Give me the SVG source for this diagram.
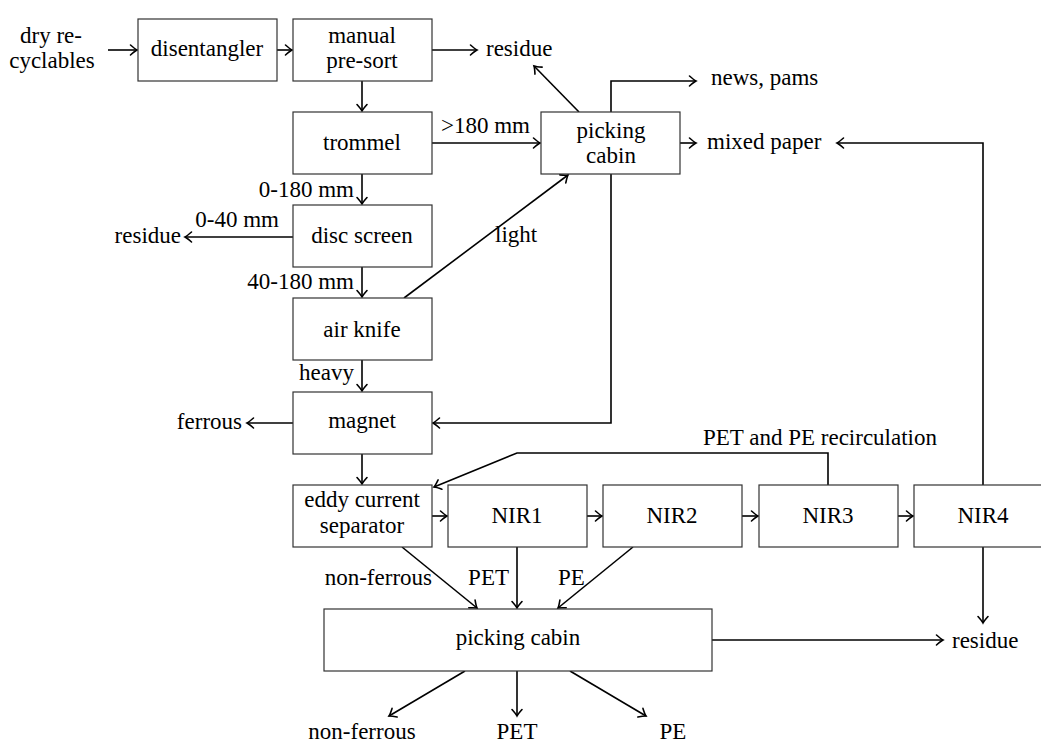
<svg xmlns="http://www.w3.org/2000/svg" width="1041" height="742" viewBox="0 0 1041 742">
<style>
text{font-family:"Liberation Serif","Times New Roman",serif;font-size:23px;fill:#000;}
.c{text-anchor:middle;}
.e{text-anchor:end;}
.box{fill:#fff;stroke:#333;stroke-width:1.2;}
.ln{fill:none;stroke:#000;stroke-width:1.6;marker-end:url(#ah);}
</style>
<defs>
<marker id="ah" markerUnits="userSpaceOnUse" viewBox="-10 -6 12 12" refX="0" refY="0" markerWidth="12" markerHeight="12" orient="auto" overflow="visible">
<path d="M-6.5,-5 Q-2,-1 0,0 Q-2,1 -6.5,5" fill="none" stroke="#000" stroke-width="1.6" stroke-linecap="round"/>
</marker>
</defs>
<rect width="1041" height="742" fill="#fff"/>
<g id="connectors">
<line class="ln" x1="108" y1="50" x2="137" y2="50"/>
<line class="ln" x1="277" y1="50" x2="292" y2="50"/>
<line class="ln" x1="432" y1="50" x2="477" y2="50"/>
<line class="ln" x1="362" y1="81" x2="362" y2="111"/>
<line class="ln" x1="432" y1="143" x2="540" y2="143"/>
<line class="ln" x1="579" y1="112" x2="534" y2="66"/>
<polyline class="ln" points="611,112 611,81 696,81"/>
<line class="ln" x1="680" y1="143" x2="696" y2="143"/>
<line class="ln" x1="362" y1="174" x2="362" y2="204"/>
<line class="ln" x1="293" y1="237" x2="185" y2="237"/>
<line class="ln" x1="362" y1="267" x2="362" y2="297"/>
<line class="ln" x1="404" y1="298" x2="568" y2="175"/>
<line class="ln" x1="362" y1="360" x2="362" y2="391"/>
<polyline class="ln" points="611,174 611,423 433,423"/>
<line class="ln" x1="293" y1="423" x2="247" y2="423"/>
<line class="ln" x1="362" y1="454" x2="362" y2="484"/>
<polyline class="ln" points="828,485 828,453 517,453 434,487"/>
<line class="ln" x1="432" y1="516" x2="447" y2="516"/>
<line class="ln" x1="587" y1="516" x2="602" y2="516"/>
<line class="ln" x1="742" y1="516" x2="758" y2="516"/>
<line class="ln" x1="897" y1="516" x2="913" y2="516"/>
<polyline class="ln" points="983,485 983,143 837,143"/>
<line class="ln" x1="983" y1="547" x2="983" y2="623"/>
<line class="ln" x1="402" y1="547" x2="477" y2="608"/>
<line class="ln" x1="517" y1="547" x2="517" y2="608"/>
<line class="ln" x1="633" y1="547" x2="558" y2="608"/>
<line class="ln" x1="712" y1="640" x2="943" y2="640"/>
<line class="ln" x1="465" y1="671" x2="389" y2="716"/>
<line class="ln" x1="517" y1="671" x2="517" y2="716"/>
<line class="ln" x1="570" y1="671" x2="646" y2="716"/>
</g>
<g id="labels">
<text class="c" x="51" y="43">dry re-</text>
<text class="c" x="52" y="68">cyclables</text>
<text x="486" y="56">residue</text>
<text x="711" y="85">news, pams</text>
<text x="707" y="149">mixed paper</text>
<text x="441" y="133">&gt;180 mm</text>
<text class="e" x="354" y="197">0-180 mm</text>
<text class="e" x="279" y="227">0-40 mm</text>
<text class="e" x="181" y="243">residue</text>
<text class="e" x="354" y="289">40-180 mm</text>
<text x="495" y="242">light</text>
<text class="e" x="354" y="380">heavy</text>
<text class="e" x="242" y="429">ferrous</text>
<text x="703" y="445">PET and PE recirculation</text>
<text class="e" x="432" y="585">non-ferrous</text>
<text class="e" x="509" y="585">PET</text>
<text x="558" y="585">PE</text>
<text x="952" y="648">residue</text>
<text class="c" x="362" y="739">non-ferrous</text>
<text class="c" x="517" y="739">PET</text>
<text class="c" x="673" y="739">PE</text>
</g>
<g id="disentangler"><rect class="box" x="138" y="19" width="139" height="62"/><text class="c" x="207" y="56">disentangler</text></g>
<g id="presort"><rect class="box" x="293" y="19" width="139" height="62"/><text class="c" x="362" y="43">manual</text><text class="c" x="362" y="68">pre-sort</text></g>
<g id="trommel"><rect class="box" x="293" y="112" width="139" height="62"/><text class="c" x="362" y="150">trommel</text></g>
<g id="picking1"><rect class="box" x="541" y="112" width="139" height="62"/><text class="c" x="611" y="138">picking</text><text class="c" x="611" y="163">cabin</text></g>
<g id="discscreen"><rect class="box" x="293" y="205" width="139" height="62"/><text class="c" x="362" y="243">disc screen</text></g>
<g id="airknife"><rect class="box" x="293" y="298" width="139" height="62"/><text class="c" x="362" y="337">air knife</text></g>
<g id="magnet"><rect class="box" x="293" y="392" width="139" height="62"/><text class="c" x="362" y="428">magnet</text></g>
<g id="eddy"><rect class="box" x="293" y="485" width="139" height="62"/><text class="c" x="362" y="507">eddy current</text><text class="c" x="362" y="533">separator</text></g>
<g id="nir1"><rect class="box" x="448" y="485" width="139" height="62"/><text class="c" x="517" y="523">NIR1</text></g>
<g id="nir2"><rect class="box" x="603" y="485" width="139" height="62"/><text class="c" x="672" y="523">NIR2</text></g>
<g id="nir3"><rect class="box" x="759" y="485" width="139" height="62"/><text class="c" x="828" y="523">NIR3</text></g>
<g id="nir4"><rect class="box" x="914" y="485" width="139" height="62"/><text class="c" x="983" y="523">NIR4</text></g>
<g id="picking2"><rect class="box" x="324" y="609" width="388" height="62"/><text class="c" x="518" y="645">picking cabin</text></g>
</svg>
